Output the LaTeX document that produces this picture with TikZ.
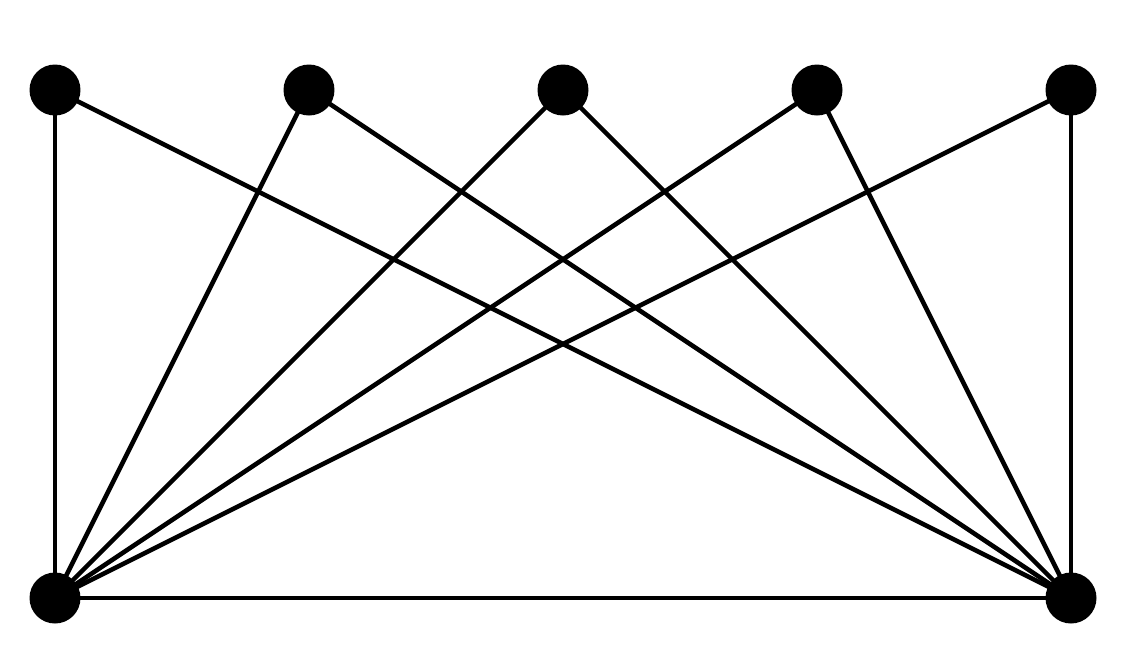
\documentclass[tikz,border=0pt]{standalone}
\begin{document}
\begin{tikzpicture}[x=0.02cm, y=-0.02cm, line width=2.6pt,
    every node/.style={circle, fill=black, inner sep=0pt, minimum size=1.02cm}]
        \useasboundingbox (0,0) rectangle (1123,664);
        % Top row (5 vertices)
        \foreach \i/\x in {1/55,2/309,3/563,4/817,5/1071} {
            \node[] (T\i) at (\x,90) {};
        }
        
        % Bottom row (2 vertices)
        \node[] (B1) at (55,598) {};
        \node[] (B2) at (1071,598) {};
        
        % Connect every top vertex to both bottom vertices
        \foreach \i in {1,...,5} {
            \foreach \j in {1,2} {
                \draw (T\i.center) -- (B\j.center);
            }
        }
        
        % Bottom edge
        \draw (B1.center) -- (B2.center);
    \end{tikzpicture}
\end{document}
